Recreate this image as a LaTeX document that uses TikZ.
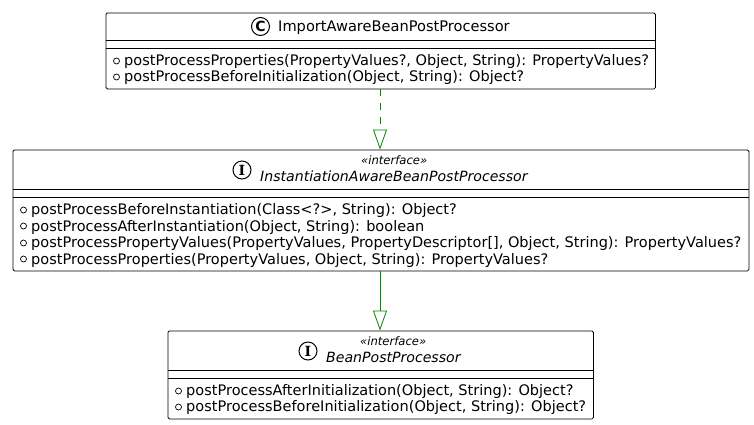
\documentclass[tikz,border=0pt]{standalone}
\usepackage{fontspec}
\setmainfont{DejaVu Sans}
\usetikzlibrary{arrows.meta}
\definecolor{arrowgreen}{RGB}{0,136,0}
\tikzset{
  x=1pt,y=-1pt,
  umlbox/.style={draw=black,line width=0.8pt,rounded corners=1.5pt},
  divider/.style={draw=black,line width=0.8pt},
  member/.style={anchor=base west,inner sep=0pt,font=\fontsize{14.53}{14.53}\selectfont,text=black},
  titlecl/.style={anchor=base west,inner sep=0pt,font=\fontsize{14.6}{14.6}\selectfont},
  titleit/.style={anchor=base west,inner sep=0pt,font=\fontsize{14.1}{14.1}\selectfont\itshape},
  stereo/.style={anchor=base west,inner sep=0pt,font=\fontsize{11.6}{11.6}\selectfont\itshape},
  vis/.style={circle,draw=black,line width=0.7pt,minimum size=6pt,inner sep=0pt},
  badge/.style={circle,draw=black,line width=1pt,minimum size=18pt,inner sep=0pt,font=\fontsize{14}{14}\selectfont\bfseries},
  gen/.style={draw=arrowgreen,line width=0.8pt,-{Triangle[open,length=20pt,width=14pt,fill=white]}},
}
\begin{document}
\begin{tikzpicture}
\useasboundingbox (0,0) rectangle (754,424);
% Box 1
\node[umlbox,anchor=north west,minimum width=549.5pt,minimum height=76pt,inner sep=0pt] (a) at (105.5,12.5) {};
\draw[divider] (105.5,40.5) -- (655,40.5) (105.5,48.5) -- (655,48.5);
\node[badge] (ab) at (260.5,26.5) {\fontspec{DejaVu Sans}C};
\node[titlecl] (at) at (278,31) {ImportAwareBeanPostProcessor};
\node[vis] (a1) at (116.5,61) {};
\node[vis] (a2) at (116.5,77) {};
\node[member] (a1t) at (124,65) {postProcessProperties(PropertyValues?, Object, String): PropertyValues?};
\node[member] (a2t) at (124,81.5) {postProcessBeforeInitialization(Object, String): Object?};
% Box 2
\node[umlbox,anchor=north west,minimum width=736pt,minimum height=121pt,inner sep=0pt] (b) at (12.5,149.5) {};
\draw[divider] (12.5,189.5) -- (748.5,189.5) (12.5,197.5) -- (748.5,197.5);
\node[badge] (bb) at (242,170) {\fontspec{DejaVu Serif}I};
\node[stereo] (bs) at (361,164.5) {«interface»};
\node[titleit] (bt) at (260,181.5) {InstantiationAwareBeanPostProcessor};
\node[vis] (b1) at (23.5,210) {};
\node[vis] (b2) at (23.5,226) {};
\node[vis] (b3) at (23.5,243) {};
\node[vis] (b4) at (23.5,259) {};
\node[member] (b1t) at (31,214.5) {postProcessBeforeInstantiation(Class<?>, String): Object?};
\node[member] (b2t) at (31,231) {postProcessAfterInstantiation(Object, String): boolean};
\node[member] (b3t) at (31,247.5) {postProcessPropertyValues(PropertyValues, PropertyDescriptor[], Object, String): PropertyValues?};
\node[member] (b4t) at (31,264) {postProcessProperties(PropertyValues, Object, String): PropertyValues?};
% Box 3
\node[umlbox,anchor=north west,minimum width=425.5pt,minimum height=88pt,inner sep=0pt] (c) at (167.5,330.5) {};
\draw[divider] (167.5,370.5) -- (593,370.5) (167.5,378.5) -- (593,378.5);
\node[badge] (cb) at (308,351) {\fontspec{DejaVu Serif}I};
\node[stereo] (cs) at (360,345.5) {«interface»};
\node[titleit] (ct) at (326,362.5) {BeanPostProcessor};
\node[vis] (c1) at (178.5,391) {};
\node[vis] (c2) at (178.5,407) {};
\node[member] (c1t) at (186,395) {postProcessAfterInitialization(Object, String): Object?};
\node[member] (c2t) at (186,411.5) {postProcessBeforeInitialization(Object, String): Object?};
% Connectors
\coordinate (mid) at (380,0);
\draw[gen,dash pattern=on 7pt off 7pt] (a.south -| mid) -- (b.north -| mid);
\draw[gen] (b.south -| mid) -- (c.north -| mid);
\end{tikzpicture}
\end{document}
